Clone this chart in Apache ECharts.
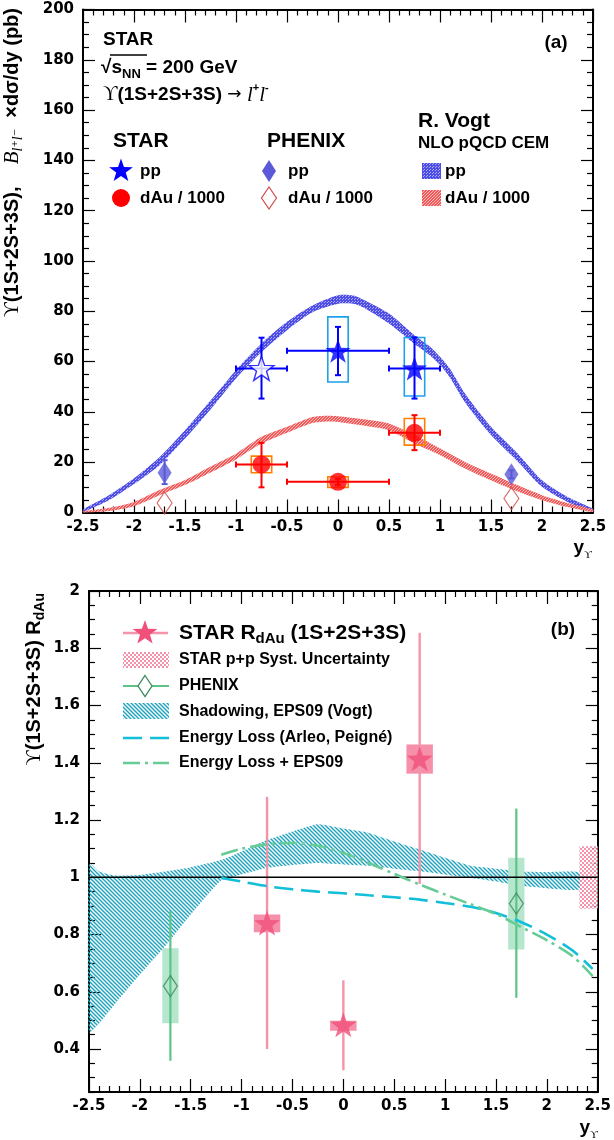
<!DOCTYPE html>
<html><head><meta charset="utf-8">
<script src="https://cdn.jsdelivr.net/npm/echarts@6/dist/echarts.min.js"></script>
<style>html,body{margin:0;padding:0;background:#fff}#c{width:614px;height:1140px}</style>
</head><body><div id="c"></div>
<script>
// ================= DATA =================
// axis ticks
const xTicks = [-2.5,-2,-1.5,-1,-0.5,0,0.5,1,1.5,2,2.5];
const yTicksA = [0,20,40,60,80,100,120,140,160,180,200];
const yTicksB = [0.4,0.6,0.8,1,1.2,1.4,1.6,1.8,2];
const yMinorB = [0.25,0.3,0.35,0.45,0.5,0.55,0.65,0.7,0.75,0.85,0.9,0.95,1.05,1.1,1.15,1.25,1.3,1.35,1.45,1.5,1.55,1.65,1.7,1.75,1.85,1.9,1.95];

// ---- panel (a) ----
// R. Vogt NLO pQCD CEM, pp band
const vogtPpX  = [-2.5,-2.25,-2,-1.75,-1.5,-1.25,-1,-0.75,-0.5,-0.25,0,0.15,0.25,0.5,0.75,0.9,1,1.1,1.25,1.5,1.75,2,2.25,2.5];
const vogtPpLo = [0.3,4.8,11.3,18.8,29.4,41,53.3,63.8,72.5,79.6,83,83,81.5,75.1,67,62.5,58.6,53.5,43.5,30.8,20.8,10.2,4.2,0.5];
const vogtPpHi = [1.2,6.8,13.6,22,32.7,44.5,56.6,67.2,75.8,82.3,86.4,86.3,84.6,79.1,70.5,66,61.9,57,47,34.1,24,12.8,6.2,1.5];
// R. Vogt, dAu/1000 band
const vogtDAuX  = [-2.5,-2.25,-2,-1.75,-1.5,-1.25,-1,-0.75,-0.5,-0.25,-0.1,0,0.25,0.5,0.75,1,1.25,1.5,1.75,2,2.25,2.5];
const vogtDAuLo = [0,0.6,2.5,6.9,10.9,15.9,21.1,27.4,31.7,35.6,36.2,36,34.6,32.7,27.4,22.8,17.4,12.8,8.5,4.9,2.2,0.2];
const vogtDAuHi = [0.5,1.8,4.2,8.9,12.9,18.3,23.4,30.1,34.1,38,38.5,38.3,37.1,35.4,30.8,25.5,20,15.5,11,6.9,3.8,1.2];
// STAR pp
const starPpX = [0, 0.75];
const starPpY = [64.3, 57.3];
const starPpErrLo = [54.6, 45.3];
const starPpErrHi = [73.8, 69.6];
const starPpBinLo = [-0.5, 0.5];
const starPpBinHi = [0.5, 1.0];
const starPpSysLo = [51.9, 46.3];
const starPpSysHi = [77.8, 69.6];
// STAR pp reflected (open star)
const starPpReflX = [-0.75];
const starPpReflY = [57.3];
const starPpReflErrLo = [45.3];
const starPpReflErrHi = [69.5];
const starPpReflBinLo = [-1.0];
const starPpReflBinHi = [-0.5];
// STAR dAu / 1000
const starDAuX = [-0.75, 0, 0.75];
const starDAuY = [19.1, 12.2, 31.7];
const starDAuErrLo = [10, 11, 24.8];
const starDAuErrHi = [27.7, 13.4, 38.7];
const starDAuBinLo = [-1.0, -0.5, 0.5];
const starDAuBinHi = [-0.5, 0.5, 1.0];
const starDAuSysLo = [15.8, 10, 26.8];
const starDAuSysHi = [22.4, 14.2, 37.4];
// PHENIX pp and dAu / 1000
const phenixPpX = [-1.7, 1.7];
const phenixPpY = [15.8, 15.2];
const phenixPpErrLo = [11.3, 13.6];
const phenixPpErrHi = [20.8, 16.8];
const phenixDAuX = [-1.7, 1.7];
const phenixDAuY = [3.8, 5.6];

// ---- panel (b) ----
const shadX  = [-2.5,-2.4,-2.25,-2,-1.75,-1.5,-1.2,-1,-0.75,-0.5,-0.25,0,0.25,0.5,0.75,1,1.25,1.5,1.75,2,2.32];
const shadLo = [0.457,0.49,0.555,0.66,0.76,0.87,0.99,1.01,1.033,1.043,1.05,1.045,1.04,1.03,1.021,1.01,0.998,0.985,0.97,0.962,0.957];
const shadHi = [1.05,1.02,1.006,1.008,1.02,1.035,1.06,1.09,1.13,1.16,1.185,1.17,1.155,1.125,1.097,1.068,1.04,1.03,1.02,1.018,1.017];
const eLossX = [-1.2,-1,-0.75,-0.5,-0.25,0,0.25,0.5,0.75,1,1.25,1.5,1.75,2,2.25,2.45];
const eLossY = [0.998,0.985,0.969,0.958,0.95,0.944,0.937,0.93,0.922,0.91,0.897,0.875,0.843,0.8,0.745,0.68];
const eLossEpsY = [1.079,1.1,1.115,1.12,1.11,1.085,1.05,1.012,0.975,0.94,0.906,0.872,0.826,0.78,0.725,0.655];
const rdauX = [-0.75, 0, 0.75];
const rdauY = [0.84, 0.485, 1.414];
const rdauErrLo = [0.40, 0.326, 0.977];
const rdauErrHi = [1.281, 0.64, 1.854];
const rdauSysLo = [0.808, 0.464, 1.362];
const rdauSysHi = [0.87, 0.499, 1.464];
const phenixRX = [-1.7, 1.7];
const phenixRY = [0.62, 0.908];
const phenixRErrLo = [0.359, 0.579];
const phenixRErrHi = [0.882, 1.24];
const phenixRSysLo = [0.49, 0.748];
const phenixRSysHi = [0.752, 1.068];
const ppSystX = [2.32, 2.5];
const ppSystY = [0.89, 1.108];
const refLineX = [-2.5, 2.5];
const refLineY = [1, 1];

// ================= STYLES / HELPERS =================
function mkCanvas(w,h,draw){const c=document.createElement('canvas');c.width=w;c.height=h;draw(c.getContext('2d'));return c;}
const blueMesh = {image: mkCanvas(3,3,g=>{g.fillStyle='#4E4EE6';g.fillRect(0,0,3,3);g.fillStyle='#AEAEF6';g.fillRect(1,1,1,1);g.fillRect(0,2,1,1);}), repeat:'repeat'};
const redMesh = {image: mkCanvas(3,3,g=>{g.fillStyle='#F25A5A';g.fillRect(0,0,3,3);g.fillStyle='#FBBDBD';g.fillRect(1,1,1,1);g.fillRect(0,2,1,1);g.fillRect(2,0,1,1);}), repeat:'repeat'};
const hatch = {image: mkCanvas(4,4,g=>{g.strokeStyle='#1AA2BE';g.lineWidth=1.4;g.beginPath();g.moveTo(-1,-1);g.lineTo(5,5);g.moveTo(-1,3);g.lineTo(1,5);g.moveTo(3,-1);g.lineTo(5,1);g.stroke();}), repeat:'repeat'};
const pinkCheck = {image: mkCanvas(4,4,g=>{g.fillStyle='#fff';g.fillRect(0,0,4,4);g.fillStyle='#F27F9E';g.fillRect(0,0,2,2);g.fillRect(2,2,2,2);}), repeat:'repeat'};

function starPts(cx,cy,R,ratio){const p=[];for(let i=0;i<10;i++){const r=i%2?R*ratio:R;const a=-Math.PI/2+i*Math.PI/5;p.push([cx+r*Math.cos(a),cy+r*Math.sin(a)]);}return p;}
function starPath(){const p=starPts(50,50,50,0.4);return 'path://M'+p.map(q=>q[0].toFixed(2)+','+q[1].toFixed(2)).join('L')+'Z';}
const STAR = starPath();

const SANS = 'Liberation Sans, Arial, Helvetica, sans-serif';
const SERIF = 'Liberation Serif, DejaVu Serif, Times New Roman, serif';
const TICKFONT = 'DejaVu Sans, sans-serif';

function zip(...arrs){return arrs[0].map((_,i)=>arrs.map(a=>a[i]));}

function bandSeries(xi, yi, xs, lo, hi, fill, sm){
  return {type:'custom', xAxisIndex:xi, yAxisIndex:yi, silent:true, data:[[xs[0], lo[0]]],
    renderItem:(p, api)=>{
      const up=[], dn=[];
      for(let i=0;i<xs.length;i++) up.push(api.coord([xs[i], hi[i]]));
      for(let i=xs.length-1;i>=0;i--) dn.push(api.coord([xs[i], lo[i]]));
      return {type:'polygon', shape:{points:up.concat(dn), smooth:sm||0}, style:{fill:fill}};
    }};
}
function boxSeries(xi, yi, data, hw, style){
  return {type:'custom', xAxisIndex:xi, yAxisIndex:yi, silent:true, data:data,
    renderItem:(p, api)=>{
      const x=api.value(0), lo=api.value(1), hi=api.value(2);
      const a=api.coord([x-hw, hi]), b=api.coord([x+hw, lo]);
      return {type:'rect', shape:{x:a[0], y:a[1], width:b[0]-a[0], height:b[1]-a[1]}, style:Object.assign({}, style)};
    }};
}
function errSeries(xi, yi, data, color, width, cap){
  return {type:'custom', xAxisIndex:xi, yAxisIndex:yi, silent:true, data:data,
    renderItem:(p, api)=>{
      const x=api.value(0), y=api.value(1), xl=api.value(2), xh=api.value(3), yl=api.value(4), yh=api.value(5);
      const pl=api.coord([xl,y]), ph=api.coord([xh,y]), ql=api.coord([x,yl]), qh=api.coord([x,yh]);
      const st={stroke:color, lineWidth:width};
      const ch=[];
      if (xh>xl) ch.push({type:'line', shape:{x1:pl[0],y1:pl[1],x2:ph[0],y2:ph[1]}, style:st});
      ch.push({type:'line', shape:{x1:ql[0],y1:ql[1],x2:qh[0],y2:qh[1]}, style:st});
      if (cap){
        if (xh>xl){
          ch.push({type:'line', shape:{x1:pl[0],y1:pl[1]-cap,x2:pl[0],y2:pl[1]+cap}, style:st});
          ch.push({type:'line', shape:{x1:ph[0],y1:ph[1]-cap,x2:ph[0],y2:ph[1]+cap}, style:st});
        }
        ch.push({type:'line', shape:{x1:ql[0]-cap,y1:ql[1],x2:ql[0]+cap,y2:ql[1]}, style:st});
        ch.push({type:'line', shape:{x1:qh[0]-cap,y1:qh[1],x2:qh[0]+cap,y2:qh[1]}, style:st});
      }
      return {type:'group', children:ch};
    }};
}

function xAx(grid, pos, labels){
  return {type:'value', gridIndex:grid, position:pos, min:-2.5, max:2.5, interval:0.5,
    axisLine:{show:true, onZero:false, lineStyle:{color:'#000', width:2}},
    axisTick:{show:true, inside:true, length:13, lineStyle:{color:'#000', width:1.2}},
    minorTick:{show:true, splitNumber:5, length:6, lineStyle:{color:'#000', width:1.2}},
    splitLine:{show:false}, minorSplitLine:{show:false},
    axisLabel:{show:labels, showMinLabel:true, showMaxLabel:true, color:'#000', fontFamily:TICKFONT, fontWeight:'bold', fontSize:15, margin:7}};
}
function yAxA(pos, labels){
  return {type:'value', gridIndex:0, position:pos, min:0, max:200, interval:20,
    axisLine:{show:true, onZero:false, lineStyle:{color:'#000', width:2}},
    axisTick:{show:true, inside:true, length:12, lineStyle:{color:'#000', width:1.2}},
    minorTick:{show:true, splitNumber:4, length:6, lineStyle:{color:'#000', width:1.2}},
    splitLine:{show:false}, minorSplitLine:{show:false},
    axisLabel:{show:labels, showMinLabel:true, showMaxLabel:true, color:'#000', fontFamily:TICKFONT, fontWeight:'bold', fontSize:15, margin:9}};
}
function yAxB(pos, labels, minor){
  return {type:'value', gridIndex:1, position:pos, min:0.25, max:2,
    axisLine:{show:!minor, onZero:false, lineStyle:{color:'#000', width:2}},
    axisTick:{show:true, inside:true, length:minor?6:12, customValues: minor?yMinorB:yTicksB, lineStyle:{color:'#000', width:1.2}},
    splitLine:{show:false},
    axisLabel:{show:labels, customValues:yTicksB, color:'#000', fontFamily:TICKFONT, fontWeight:'bold', fontSize:15, margin:9}};
}

function txt(x,y,text,size,o){
  o=o||{};
  const al=o.align||'left';
  return {type:'text', x:x, y:y, rotation:o.rot||0, z:100, silent:true,
    style:Object.assign({text:text, fill:'#000', fontFamily:o.family||SANS, fontWeight:o.weight||'bold', fontStyle:o.fstyle||'normal', fontSize:size,
      align:al, textAlign:al, verticalAlign:'middle', textVerticalAlign:'middle'}, o.style||{})};
}
function rich(base){
  return {
    b:{fontFamily:SANS, fontWeight:'bold', fontSize:base, lineHeight:base+6},
    u:{fontFamily:SERIF, fontWeight:'normal', fontSize:base+1, lineHeight:base+6},
    ar:{fontFamily:'DejaVu Sans, sans-serif', fontWeight:'normal', fontSize:base-2, lineHeight:base+6},
    bi:{fontFamily:SERIF, fontStyle:'italic', fontWeight:'normal', fontSize:base+1, lineHeight:base+6},
    li:{fontFamily:SERIF, fontStyle:'italic', fontWeight:'normal', fontSize:base+2, lineHeight:base+6},
    sup:{fontFamily:SANS, fontWeight:'bold', fontSize:Math.round(base*0.6), lineHeight:Math.round(base*0.6), verticalAlign:'top'},
    sub:{fontFamily:SANS, fontWeight:'bold', fontSize:Math.round(base*0.7), lineHeight:Math.round(base*0.6), verticalAlign:'bottom'},
    subi:{fontFamily:SERIF, fontStyle:'italic', fontWeight:'normal', fontSize:Math.round(base*0.7), lineHeight:Math.round(base*0.6), verticalAlign:'bottom'},
    subu:{fontFamily:SERIF, fontWeight:'normal', fontSize:Math.round(base*0.6), lineHeight:Math.round(base*0.5), verticalAlign:'bottom'}
  };
}
function rtxt(x,y,text,size,o){
  const t=txt(x,y,text,size,o); t.style.rich=rich(size); return t;
}
function diamondPts(cx,cy,w,h){return [[cx,cy-h/2],[cx+w/2,cy],[cx,cy+h/2],[cx-w/2,cy]];}

// ================= OPTION =================
const series = [
  // ---- panel (a) ----
  bandSeries(0,0, vogtPpX, vogtPpLo, vogtPpHi, blueMesh, 0.25),
  bandSeries(0,0, vogtDAuX, vogtDAuLo, vogtDAuHi, redMesh, 0.25),
  boxSeries(0,0, zip(starPpX, starPpSysLo, starPpSysHi), 0.1, {fill:'none', stroke:'#1FA0EA', lineWidth:1.6}),
  boxSeries(0,0, zip(starDAuX, starDAuSysLo, starDAuSysHi), 0.1, {fill:'none', stroke:'#FF8000', lineWidth:1.6}),
  errSeries(0,0, zip(starPpX, starPpY, starPpBinLo, starPpBinHi, starPpErrLo, starPpErrHi), '#0000FF', 2, 3),
  errSeries(0,0, zip(starPpReflX, starPpReflY, starPpReflBinLo, starPpReflBinHi, starPpReflErrLo, starPpReflErrHi), '#0000FF', 2, 3),
  errSeries(0,0, zip(starDAuX, starDAuY, starDAuBinLo, starDAuBinHi, starDAuErrLo, starDAuErrHi), '#FF0000', 2, 3),
  errSeries(0,0, zip(phenixPpX, phenixPpY, phenixPpX, phenixPpX, phenixPpErrLo, phenixPpErrHi), '#5A5AD8', 2, 3),
  {type:'scatter', xAxisIndex:0, yAxisIndex:0, silent:true, symbol:STAR, symbolSize:[25,24], data:zip(starPpX, starPpY), itemStyle:{color:'#0000FF'}},
  {type:'scatter', xAxisIndex:0, yAxisIndex:0, silent:true, symbol:STAR, symbolSize:[25,24], data:zip(starPpReflX, starPpReflY), itemStyle:{color:'#FFFFFF', borderColor:'#0000FF', borderWidth:1.4}},
  {type:'scatter', xAxisIndex:0, yAxisIndex:0, silent:true, symbol:'circle', symbolSize:18, data:zip(starDAuX, starDAuY), itemStyle:{color:'#FF0000'}},
  {type:'scatter', xAxisIndex:0, yAxisIndex:0, silent:true, symbol:'diamond', symbolSize:[14,22], data:zip(phenixPpX, phenixPpY), itemStyle:{color:'#5A5AD8'}},
  {type:'scatter', xAxisIndex:0, yAxisIndex:0, silent:true, symbol:'diamond', symbolSize:[15,22], data:zip(phenixDAuX, phenixDAuY), itemStyle:{color:'rgba(255,255,255,0)', borderColor:'#D04848', borderWidth:1.2}},
  // ---- panel (b) ----
  bandSeries(2,2, shadX, shadLo, shadHi, hatch, 0.15),
  {type:'line', xAxisIndex:2, yAxisIndex:2, silent:true, symbol:'none', data:zip(refLineX, refLineY), lineStyle:{color:'#000', width:1.6}},
  {type:'line', xAxisIndex:2, yAxisIndex:2, silent:true, symbol:'none', smooth:0.3, data:zip(eLossX, eLossY), lineStyle:{color:'#12BED8', width:2.6, type:[19,8]}},
  {type:'line', xAxisIndex:2, yAxisIndex:2, silent:true, symbol:'none', smooth:0.3, data:zip(eLossX, eLossEpsY), lineStyle:{color:'#66CC96', width:2.6, type:[17,5,3,5]}},
  boxSeries(2,2, zip(phenixRX, phenixRSysLo, phenixRSysHi), 0.08, {fill:'#B6E6CD', stroke:'none'}),
  boxSeries(2,2, zip(rdauX, rdauSysLo, rdauSysHi), 0.13, {fill:'#F68FA9', stroke:'none'}),
  errSeries(2,2, zip(phenixRX, phenixRY, phenixRX, phenixRX, phenixRErrLo, phenixRErrHi), '#5EC486', 2.2, 0),
  errSeries(2,2, zip(rdauX, rdauY, rdauX, rdauX, rdauErrLo, rdauErrHi), '#F494AB', 2.4, 0),
  {type:'scatter', xAxisIndex:2, yAxisIndex:2, silent:true, symbol:STAR, symbolSize:[26,25], data:zip(rdauX, rdauY), itemStyle:{color:'#F0507A'}},
  {type:'scatter', xAxisIndex:2, yAxisIndex:2, silent:true, symbol:'diamond', symbolSize:[14,21], data:zip(phenixRX, phenixRY), itemStyle:{color:'rgba(255,255,255,0)', borderColor:'#3A8A5A', borderWidth:1.3}},
  {type:'custom', xAxisIndex:2, yAxisIndex:2, silent:true, data:[[ppSystX[0], ppSystY[0], ppSystX[1], ppSystY[1]]],
    renderItem:(p, api)=>{const a=api.coord([api.value(0), api.value(3)]), b=api.coord([api.value(2), api.value(1)]);
      return {type:'rect', shape:{x:a[0], y:a[1], width:b[0]-a[0], height:b[1]-a[1]}, style:{fill:pinkCheck, opacity:0.85}};}}
];

const graphic = [
  // panel (a) texts
  txt(103, 40, 'STAR', 19),
  rtxt(101, 68, '{b|√}{b|s}{sub|NN}{b| = 200 GeV}', 19),
  {type:'line', z:100, silent:true, shape:{x1:110, y1:55, x2:147, y2:55}, style:{stroke:'#000', lineWidth:1.3}},
  rtxt(103, 95, '{u|ϒ}{b|(1S+2S+3S) }{ar|→ }{li|l}{sup|+}{li|l}{sup|-}', 19),
  txt(556, 43, '(a)', 19, {align:'center'}),
  txt(113, 141, 'STAR', 21),
  txt(267, 141, 'PHENIX', 21),
  txt(418, 121, 'R. Vogt', 21),
  txt(418, 143, 'NLO pQCD CEM', 17),
  {type:'polygon', z:100, silent:true, shape:{points:starPts(121,171,12.5,0.4)}, style:{fill:'#0000FF'}},
  txt(140, 171, 'pp', 17),
  {type:'circle', z:100, silent:true, shape:{cx:121, cy:198, r:9}, style:{fill:'#FF0000'}},
  txt(140, 198, 'dAu / 1000', 17),
  {type:'polygon', z:100, silent:true, shape:{points:diamondPts(269,171,14,22)}, style:{fill:'#5A5AD8'}},
  txt(288, 171, 'pp', 17),
  {type:'polygon', z:100, silent:true, shape:{points:diamondPts(269,198,15,22)}, style:{fill:'none', stroke:'#D04848', lineWidth:1.2}},
  txt(288, 198, 'dAu / 1000', 17),
  {type:'rect', z:100, silent:true, shape:{x:422, y:163, width:19, height:16}, style:{fill:blueMesh}},
  txt(445, 171, 'pp', 17),
  {type:'rect', z:100, silent:true, shape:{x:422, y:190, width:19, height:16}, style:{fill:redMesh}},
  txt(445, 198, 'dAu / 1000', 17),
  // axis titles panel (a)
  rtxt(12, 8, '{u|ϒ}{b|(1S+2S+3S),    }{bi|B}{subi|l⁺l⁻}{b|  ×dσ/dy (pb)}', 20, {rot:Math.PI/2, align:'right'}),
  rtxt(592, 548, '{b|y}{subu|ϒ}', 19, {align:'right'}),
  // panel (b) legend
  {type:'line', z:100, silent:true, shape:{x1:123, y1:633, x2:168, y2:633}, style:{stroke:'#F494AB', lineWidth:2.4}},
  {type:'polygon', z:101, silent:true, shape:{points:starPts(145,633,13,0.4)}, style:{fill:'#F0507A'}},
  rtxt(179, 633, '{b|STAR R}{sub|dAu}{b| (1S+2S+3S)}', 21),
  {type:'rect', z:100, silent:true, shape:{x:123, y:652, width:46, height:16}, style:{fill:pinkCheck, opacity:0.85}},
  txt(179, 660, 'STAR p+p Syst. Uncertainty', 16),
  {type:'line', z:100, silent:true, shape:{x1:123, y1:686, x2:169, y2:686}, style:{stroke:'#5EC486', lineWidth:2.2}},
  {type:'polygon', z:101, silent:true, shape:{points:diamondPts(145,686,14,21)}, style:{fill:'#fff', stroke:'#3A8A5A', lineWidth:1.3}},
  txt(179, 686, 'PHENIX', 16),
  {type:'rect', z:100, silent:true, shape:{x:123, y:703, width:46, height:16}, style:{fill:hatch}},
  txt(179, 712, 'Shadowing, EPS09 (Vogt)', 16),
  {type:'line', z:100, silent:true, shape:{x1:123, y1:738, x2:169, y2:738}, style:{stroke:'#12BED8', lineWidth:2.6, lineDash:[19,8]}},
  txt(179, 738, 'Energy Loss (Arleo, Peigné)', 16),
  {type:'line', z:100, silent:true, shape:{x1:123, y1:763, x2:169, y2:763}, style:{stroke:'#66CC96', lineWidth:2.6, lineDash:[17,5,3,5]}},
  txt(179, 763, 'Energy Loss + EPS09', 16),
  txt(563, 630, '(b)', 19, {align:'center'}),
  rtxt(34, 593, '{u|ϒ}{b|(1S+2S+3S) R}{sub|dAu}', 20, {rot:Math.PI/2, align:'right'}),
  rtxt(598, 1128, '{b|y}{subu|ϒ}', 19, {align:'right'})
];

const option = {
  animation:false,
  backgroundColor:'#fff',
  grid:[{left:83, top:9.5, width:510, height:503}, {left:89, top:591, width:509, height:501}],
  xAxis:[xAx(0,'bottom',true), xAx(0,'top',false), xAx(1,'bottom',true), xAx(1,'top',false)],
  yAxis:[yAxA('left',true), yAxA('right',false), yAxB('left',true,false), yAxB('right',false,false), yAxB('left',false,true), yAxB('right',false,true)],
  series: series,
  graphic: graphic
};
const chart = echarts.init(document.getElementById('c'), null, {renderer:'canvas'});
chart.setOption(option);
</script></body></html>
